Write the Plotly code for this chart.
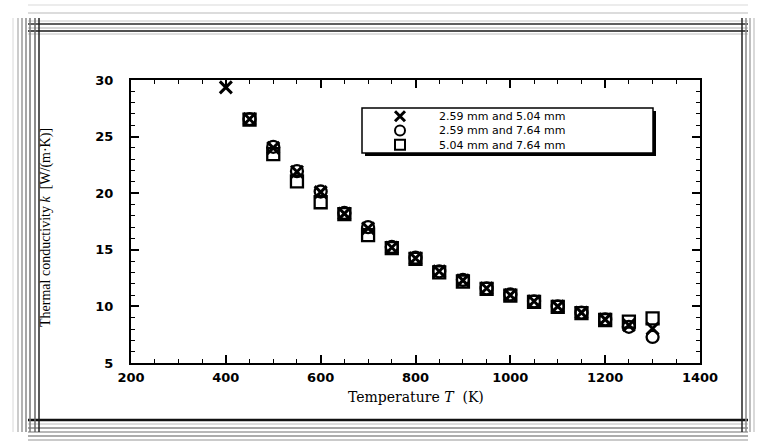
import plotly.graph_objects as go

# ---------------- data ----------------
series_names = ["2.59 mm and 5.04 mm", "2.59 mm and 7.64 mm", "5.04 mm and 7.64 mm"]

T_x = [400, 450, 500, 550, 600, 650, 700, 750, 800, 850, 900, 950, 1000, 1050, 1100, 1150, 1200, 1250, 1300]
k_x = [29.35, 26.55, 24.0, 21.9, 20.1, 18.2, 16.9, 15.2, 14.25, 13.1, 12.3, 11.6, 11.0, 10.45, 10.0, 9.45, 8.85, 8.35, 8.05]

T_o = [450, 500, 550, 600, 650, 700, 750, 800, 850, 900, 950, 1000, 1050, 1100, 1150, 1200, 1250, 1300]
k_o = [26.55, 24.1, 21.95, 20.15, 18.25, 17.0, 15.25, 14.3, 13.1, 12.35, 11.6, 11.05, 10.45, 10.0, 9.45, 8.85, 8.2, 7.3]

T_s = [450, 500, 550, 600, 650, 700, 750, 800, 850, 900, 950, 1000, 1050, 1100, 1150, 1200, 1250, 1300]
k_s = [26.5, 23.45, 21.05, 19.2, 18.15, 16.3, 15.15, 14.2, 13.0, 12.2, 11.55, 10.95, 10.4, 9.95, 9.4, 8.8, 8.65, 8.95]

x_ticks = [200, 400, 600, 800, 1000, 1200, 1400]
y_ticks = [5, 10, 15, 20, 25, 30]

# ---------------- layout geometry (pixels) ----------------
W, H = 762, 445
L, R, TOP, BOT = 131, 700, 80, 363
PW, PH = R - L, BOT - TOP


def px(xp):
    return (xp - L) / PW


def py(yp):
    return (BOT - yp) / PH


fig = go.Figure()

mk = dict(color="black", size=12)
fig.add_trace(go.Scatter(x=T_x, y=k_x, mode="markers", name=series_names[0],
                         marker=dict(symbol="x-thin-open", line=dict(width=3, color="black"), **mk)))
fig.add_trace(go.Scatter(x=T_o, y=k_o, mode="markers", name=series_names[1],
                         marker=dict(symbol="circle-open", line=dict(width=2.3, color="black"), **mk)))
fig.add_trace(go.Scatter(x=T_s, y=k_s, mode="markers", name=series_names[2],
                         marker=dict(symbol="square-open", line=dict(width=2.3, color="black"), **mk)))

# legend (drawn manually so that the rows can be as tight as in the reference)
LEG_TOP, LEG_BOT, LEG_LEFT, LEG_RIGHT = 108, 153, 362, 653
LEG_FONT = 11
leg_line = LEG_FONT * 1.3
leg_mid = (LEG_TOP + LEG_BOT) / 2
leg_y_px = [leg_mid - leg_line, leg_mid, leg_mid + leg_line]
leg_sym = ["x-thin-open", "circle-open", "square-open"]
leg_w = [3, 2, 2]
leg_x_px = 400
for i in range(3):
    fig.add_trace(go.Scatter(x=[px(leg_x_px)], y=[py(leg_y_px[i])], mode="markers",
                             xaxis="x2", yaxis="y2", showlegend=False, hoverinfo="skip",
                             marker=dict(symbol=leg_sym[i], size=10, color="black",
                                         line=dict(width=leg_w[i], color="black"))))

tickfont = dict(family="DejaVu Sans", size=13, color="black")
axis_common = dict(showgrid=False, zeroline=False, showline=True, linecolor="black", linewidth=2,
                   mirror="ticks", ticks="inside", ticklen=8, tickwidth=1.5, tickcolor="black",
                   tickfont=tickfont)

fig.update_layout(
    width=W, height=H,
    margin=dict(l=L, r=W - R, t=TOP, b=H - BOT, autoexpand=False),
    paper_bgcolor="white", plot_bgcolor="white",
    showlegend=False,
    xaxis=dict(range=[200, 1400], tickvals=x_ticks, ticktext=[f"<b>{v}</b>" for v in x_ticks],
               minor=dict(dtick=50, ticks="inside", ticklen=4, tickcolor="black", tickwidth=1.2),
               ticklabelstandoff=1, **axis_common),
    yaxis=dict(range=[5, 30], tickvals=y_ticks, ticktext=[f"<b>{v}</b>" for v in y_ticks],
               minor=dict(dtick=1, ticks="inside", ticklen=4, tickcolor="black", tickwidth=1.2),
               ticklabelstandoff=13, **axis_common),
    xaxis2=dict(domain=[0, 1], range=[0, 1], overlaying="x", visible=False, anchor="y2"),
    yaxis2=dict(domain=[0, 1], range=[0, 1], overlaying="y", visible=False, anchor="x2"),
)

# axis titles
fig.add_annotation(xref="paper", yref="paper", x=0.5, y=py(397), text="Temperature <i>T</i>  (K)",
                   showarrow=False, font=dict(family="DejaVu Serif", size=14, color="black"),
                   xanchor="center", yanchor="middle")
fig.add_annotation(xref="paper", yref="paper", x=px(46), y=py(228),
                   text="Thermal conductivity <i>k</i>  [W/(m·K)]", textangle=-90,
                   showarrow=False, font=dict(family="Liberation Serif", size=14, color="black"),
                   xanchor="center", yanchor="middle")

# legend box with shadow
shapes = []
shapes.append(dict(type="rect", xref="paper", yref="paper", x0=px(LEG_LEFT + 3), x1=px(LEG_RIGHT + 3),
                   y0=py(LEG_TOP + 3), y1=py(LEG_BOT + 3),
                   line=dict(width=0), fillcolor="black", layer="below"))
shapes.append(dict(type="rect", xref="paper", yref="paper", x0=px(LEG_LEFT), x1=px(LEG_RIGHT),
                   y0=py(LEG_TOP), y1=py(LEG_BOT),
                   line=dict(width=1.5, color="black"), fillcolor="white", layer="below"))
fig.add_annotation(xref="paper", yref="paper", x=px(437), y=py(leg_mid), text="<br>".join(series_names),
                   showarrow=False, xanchor="left", yanchor="middle", align="left",
                   font=dict(family="DejaVu Sans", size=LEG_FONT, color="black"))

# decorative scanned frame lines
def hline(yp, x0, x1, color, w):
    shapes.append(dict(type="line", xref="paper", yref="paper", x0=px(x0), x1=px(x1), y0=py(yp), y1=py(yp),
                       line=dict(color=color, width=w), layer="below"))


def vline(xp, y0, y1, color, w):
    shapes.append(dict(type="line", xref="paper", yref="paper", x0=px(xp), x1=px(xp), y0=py(y0), y1=py(y1),
                       line=dict(color=color, width=w), layer="below"))


for yp, c, w in [(5, "#e6e6e6", 1.5), (13, "#d0d0d0", 1.5), (21, "#c8c8c8", 1), (24, "#606060", 2),
                 (28, "#b0b0b0", 1), (31, "#505050", 2), (34, "#c0c0c0", 1)]:
    hline(yp, 28, 748, c, w)
for yp, c, w in [(420, "#111111", 2.5), (424, "#bbbbbb", 1), (428, "#888888", 1.5), (432, "#a0a0a0", 1.5),
                 (436, "#909090", 1.5), (440, "#b8b8b8", 1.5)]:
    hline(yp, 28, 748, c, w)
for xp, c, w in [(13, "#d8d8d8", 1), (18, "#bbbbbb", 1.5), (22, "#999999", 1.5), (26, "#888888", 1.5),
                 (30, "#777777", 1.5), (35, "#666666", 1.5), (39, "#222222", 1.5)]:
    vline(xp, 18, 432, c, w)
for xp, c, w in [(742, "#222222", 1.5), (746, "#888888", 1.5), (750, "#aaaaaa", 1.5), (754, "#cccccc", 1.5)]:
    vline(xp, 18, 432, c, w)

fig.update_layout(shapes=shapes)

fig.write_html("out.html")
